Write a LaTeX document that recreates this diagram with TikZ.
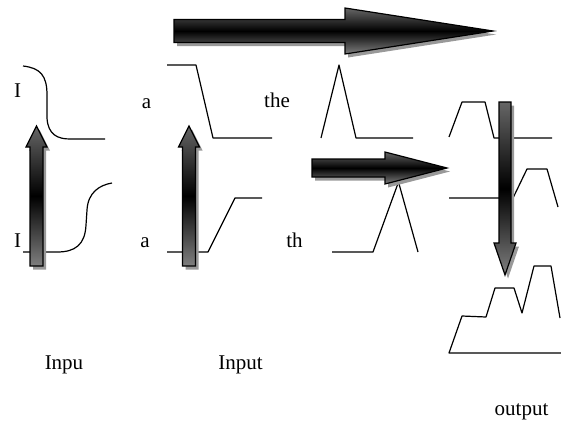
\documentclass[tikz,border=0pt]{standalone}
\usepackage{fontspec}
\setmainfont{Liberation Serif}
\newfontfamily\labelfont{Liberation Serif}

\begin{document}
\begin{tikzpicture}[x=1pt,y=-1pt,
  curve/.style={line width=1.2pt,line join=round},
  fatarrow/.style={draw,line width=1.2pt,top color=gray!80!black,bottom color=gray,middle color=black,
    preaction={fill=gray!80,transform canvas={shift={(3pt,-3.5pt)}}}},
  lbl/.style={anchor=base,inner sep=0pt,font=\labelfont\fontsize{21}{25}\selectfont}]
\useasboundingbox (0,0) rectangle (561,423);

% Step response (left column)
\draw[curve] (23,66) .. controls (40,68) and (47,75) .. (47,95) -- (47,118)
  .. controls (48,135) and (58,139) .. (70,139) -- (105,139);
\draw[curve] (23,252) -- (57,252) .. controls (75,252) and (85,245) .. (86,225)
  -- (87,210) .. controls (88,192) and (100,185) .. (112,183);
\node[lbl] (i1) at (17.5,97) {I};
\node[lbl] (i2) at (17.5,247) {I};

% Ramp response
\draw[curve] (167,65) -- (196,65) -- (213,138) -- (272,138);
\draw[curve] (167,252) -- (208,252) -- (235,198) -- (262,198);
\node[lbl] (a1) at (146.5,108) {a};
\node[lbl] (a2) at (145,247) {a};

% Peaks
\draw[curve] (321,138) -- (339,65) -- (356,138) -- (413,138);
\draw[curve] (332,252) -- (373,252) -- (398.5,182) -- (418,252);
\node[lbl] (the) at (277,107) {the};
\node[lbl] (th) at (294.5,247) {th};

% Shifted pulses
\draw[curve] (449,137) -- (462,102) -- (485,102) -- (494,138) -- (552,138);
\draw[curve] (449,198) -- (513,198) -- (527,169) -- (547,169) -- (558,207);

% Sum
\draw[curve] (561,353) -- (449,353) -- (462,316) -- (486,317) -- (495,288) -- (514,288)
  -- (522,313) -- (534,266) -- (551,266) -- (560,318);

% Up arrows
\foreach \x in {36.5,189} {
    \draw[fatarrow] ({\x-6.5},266) -- ({\x-6.5},147) -- ({\x-10.5},147) -- (\x,126)
      -- ({\x+10.5},147) -- ({\x+6.5},147) -- ({\x+6.5},266) -- cycle;
}

% Long arrow on top
\draw[fatarrow] (174,19.5) -- (345,19.5) -- (345,8) -- (493,31) -- (345,54)
  -- (345,42.5) -- (174,42.5) -- cycle;

% Short arrow
\draw[fatarrow] (312,159) -- (385,159) -- (385,152) -- (447,168) -- (385,184)
  -- (385,177) -- (312,177) -- cycle;

% Down arrow
\draw[fatarrow] (499,102) -- (511,102) -- (511,243) -- (516,243) -- (505,275)
  -- (494,243) -- (499,243) -- cycle;

\node[lbl] (inpu) at (64,369) {Inpu};
\node[lbl] (input) at (240.5,369) {Input};
\node[lbl] (output) at (521.5,415) {output};

\end{tikzpicture}
\end{document}
